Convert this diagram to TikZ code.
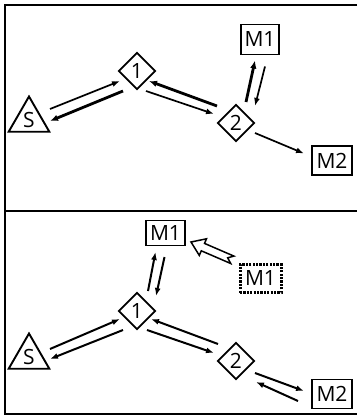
\documentclass[tikz,border=0pt]{standalone}
\usepackage{fontspec}
\setmainfont{Open Sans}
\usetikzlibrary{shapes.geometric,arrows.meta}
\begin{document}
\begin{tikzpicture}[x=1pt,y=-1pt,
  lbl/.style={font=\fontsize{21}{23}\selectfont},
  box/.style={lbl,draw,line width=1.9pt,minimum width=38pt,minimum height=30pt,inner sep=0pt},
  dia/.style={lbl,draw,diamond,line width=1.9pt,minimum width=37pt,minimum height=37pt,inner sep=0pt},
  tri/.style={lbl,draw,regular polygon,regular polygon sides=3,minimum size=47pt,inner sep=0pt,line width=1.9pt},
  dotbox/.style={box,line width=3pt,dash pattern=on 2.2pt off 1.2pt,minimum width=41pt,minimum height=28pt},
  thinarr/.style={-{Latex[length=8pt,width=6pt]},line width=1.7pt},
  thickarr/.style={-{Latex[length=8pt,width=6.5pt]},line width=2.8pt},
  midarr/.style={-{Latex[length=8pt,width=6pt]},line width=2pt},
  frame/.style={line width=2.2pt}]
\useasboundingbox (0,0) rectangle (357,415);
% frame
\draw[frame] (357,5) -- (5,5) -- (5,414) -- (357,414);
\draw[frame] (5,211) -- (357,211);
% top panel
\node[tri] (S) at (29,120) {S};
\node[dia] (d1) at (137,71) {1};
\node[dia] (d2) at (236,123) {2};
\node[box] (M1t) at (260,39.5) {M1};
\node[box,minimum width=40pt,minimum height=29pt] (M2t) at (332,160.5) {M2};
\draw[thinarr]  ([shift={(21,-11)}]S.center) -- ([shift={(-17,10)}]d1.center);
\draw[thickarr] ([shift={(-14,20)}]d1.center) -- ([shift={(21,1)}]S.center);
\draw[thickarr] ([shift={(-19,-17)}]d2.center) -- ([shift={(12,10)}]d1.center);
\draw[thinarr]  ([shift={(9,20)}]d1.center) -- ([shift={(-22,-9)}]d2.center);
\draw[thickarr] ([shift={(10,-21)}]d2.center) -- ([shift={(-5,21)}]M1t.center);
\draw[thinarr]  ([shift={(5,27)}]M1t.center) -- ([shift={(19,-17)}]d2.center);
\draw[thinarr]  ([shift={(19,10)}]d2.center) -- ([shift={(-28,-7)}]M2t.center);
% bottom panel
\node[tri] (Sb) at (29,357) {S};
\node[dia] (e1) at (137,311) {1};
\node[dia] (e2) at (236,361) {2};
\node[box,minimum width=39pt,minimum height=25pt] (M1b) at (165.5,233) {M1};
\node[box,minimum width=40pt,minimum height=29pt] (M2b) at (332,394) {M2};
\node[dotbox] (M1d) at (260.5,278.5) {M1};
\draw[line width=1.5pt,fill=white,line join=miter]
  (191,242) -- (199.3,255.4) -- (201.3,250.8) -- (230.7,263.5) -- (227.7,257.8)
  -- (233.9,256.1) -- (204.5,243.4) -- (206.5,238.8) -- cycle;
\draw[midarr] ([shift={(11,-20)}]e1.center) -- ([shift={(-10,19)}]M1b.center);
\draw[midarr] ([shift={(-1,24)}]M1b.center) -- ([shift={(19,-15)}]e1.center);
\draw[midarr] ([shift={(21,-8)}]Sb.center) -- ([shift={(-17,8)}]e1.center);
\draw[midarr] ([shift={(-14,19)}]e1.center) -- ([shift={(21,2)}]Sb.center);
\draw[midarr] ([shift={(-18,-17)}]e2.center) -- ([shift={(14,8)}]e1.center);
\draw[midarr] ([shift={(10,19)}]e1.center) -- ([shift={(-22,-8)}]e2.center);
\draw[midarr] ([shift={(19,12)}]e2.center) -- ([shift={(-28,-3)}]M2b.center);
\draw[midarr] ([shift={(-34,7)}]M2b.center) -- ([shift={(20,21)}]e2.center);
\end{tikzpicture}
\end{document}
